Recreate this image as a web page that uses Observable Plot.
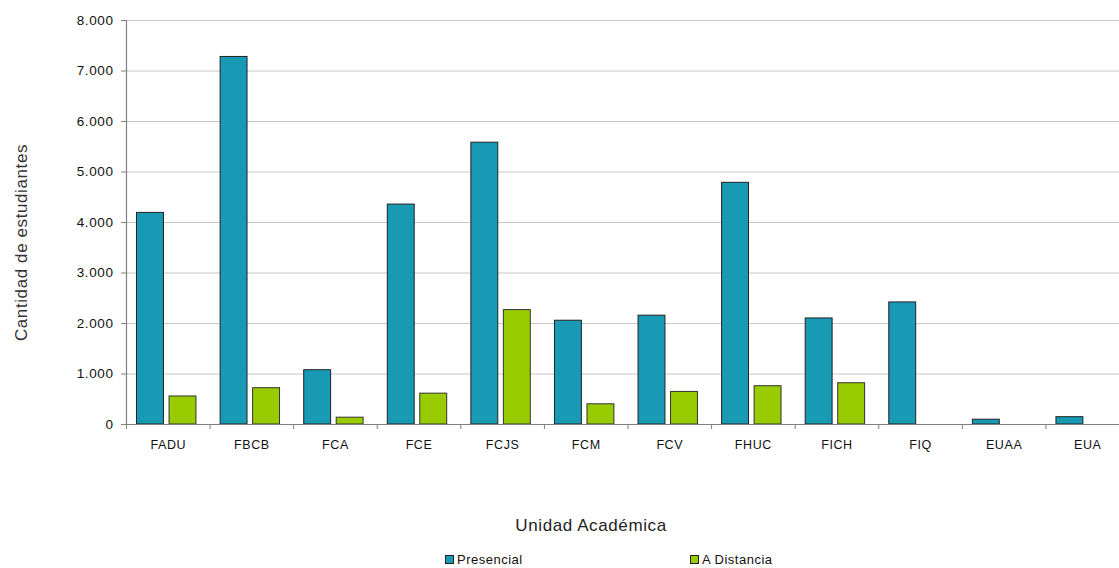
<!DOCTYPE html>
<html>
<head>
<meta charset="utf-8">
<script src="https://cdn.jsdelivr.net/npm/d3@7"></script>
<script src="https://cdn.jsdelivr.net/npm/@observablehq/plot@0.6"></script>
<style>
  html, body { margin: 0; padding: 0; background: #fff; overflow: hidden; }
  #wrap { position: relative; width: 1119px; height: 568px; }
  #chart svg text { letter-spacing: 0.6px; }
  .leg { position: absolute; top: 552px; font: 13px "Liberation Sans", Arial, sans-serif; color: #111; letter-spacing: 0.5px; white-space: nowrap; }
  .sw { display: inline-block; width: 7px; height: 7px; border: 1px solid #222; margin-right: 3px; vertical-align: 0px; }
</style>
</head>
<body>
<div id="wrap">
  <div id="chart"></div>
</div>
<script>
// ---- data ----
const categories = ["FADU","FBCB","FCA","FCE","FCJS","FCM","FCV","FHUC","FICH","FIQ","EUAA","EUA"];
const presencial = [4190, 7278, 1075, 4355, 5580, 2055, 2155, 4786, 2100, 2417, 95, 145];
const aDistancia = [555, 719, 135, 611, 2265, 400, 645, 758, 817, 0, 0, 0];
const seriesNames = ["Presencial", "A Distancia"];
const seriesColors = ["#1899b4", "#99cc00"];
const yTicks = [0, 1000, 2000, 3000, 4000, 5000, 6000, 7000, 8000];
const yTickLabels = ["0", "1.000", "2.000", "3.000", "4.000", "5.000", "6.000", "7.000", "8.000"];
const xTitle = "Unidad Académica";
const yTitle = "Cantidad de estudiantes";

// ---- table ----
const rows = [];
categories.forEach((c, i) => {
  rows.push({cat: c, serie: seriesNames[0], value: presencial[i]});
  rows.push({cat: c, serie: seriesNames[1], value: aDistancia[i]});
});
const blue = rows.filter(d => d.serie === seriesNames[0]);
const green = rows.filter(d => d.serie === seriesNames[1] && d.value > 0);

const width = 1119, height = 545;
const mL = 126, mR = -10, mT = 20, mB = 121;
const bw = (width - mL - mR) / categories.length;
const font = '"Liberation Sans", Arial, sans-serif';

const chart = Plot.plot({
  width, height,
  marginLeft: mL, marginRight: mR, marginTop: mT, marginBottom: mB,
  style: {fontFamily: font, fontSize: "13px", color: "#111", background: "#fff"},
  x: {type: "band", domain: categories, padding: 0, round: false, label: null},
  y: {domain: [0, 8000], label: null},
  color: {domain: seriesNames, range: seriesColors},
  marks: [
    Plot.ruleY(yTicks.filter(t => t > 0), {stroke: "#c8c8c8", strokeWidth: 1}),
    Plot.barY(blue, {x: "cat", y: "value", fill: "serie", stroke: "#222", strokeWidth: 1,
      insetLeft: bw * 0.126, insetRight: bw * 0.552}),
    Plot.barY(green, {x: "cat", y: "value", fill: "serie", stroke: "#333", strokeWidth: 1,
      insetLeft: bw * 0.515, insetRight: bw * 0.163}),
    Plot.ruleY([0], {stroke: "#808080", strokeWidth: 1.2}),
    Plot.frame({anchor: "left", stroke: "#808080", strokeWidth: 1.2}),
    // tick marks at band boundaries
    Plot.axisX({tickSize: 5, text: null, dx: -bw / 2, stroke: "#808080", label: null, strokeOpacity: 1}),
    // category labels at band centers
    Plot.axisX({tickSize: 0, tickPadding: 16, label: null, fill: "#111", fontSize: 12.5}),
    Plot.axisY({ticks: yTicks, tickSize: 5, tickPadding: 8, stroke: "#808080", strokeOpacity: 1,
      tickFormat: d => yTickLabels[yTicks.indexOf(d)], label: null, fill: "#111", fontSize: 13.5}),
    Plot.text([xTitle], {frameAnchor: "bottom", dy: 101, dx: -37, fontSize: 17, fill: "#222",
      lineAnchor: "middle", textAnchor: "middle"}),
    Plot.text([yTitle], {frameAnchor: "left", dx: -105, dy: 20, rotate: -90, fontSize: 17, fill: "#333",
      lineAnchor: "middle", textAnchor: "middle"})
  ]
});
document.getElementById("chart").appendChild(chart);

// ---- legend ----
const wrap = document.getElementById("wrap");
const legendLeft = [445, 690];
seriesNames.forEach((name, i) => {
  const d = document.createElement("div");
  d.className = "leg";
  d.style.left = legendLeft[i] + "px";
  const sw = document.createElement("span");
  sw.className = "sw";
  sw.style.background = seriesColors[i];
  d.appendChild(sw);
  d.appendChild(document.createTextNode(name));
  wrap.appendChild(d);
});
</script>
</body>
</html>
